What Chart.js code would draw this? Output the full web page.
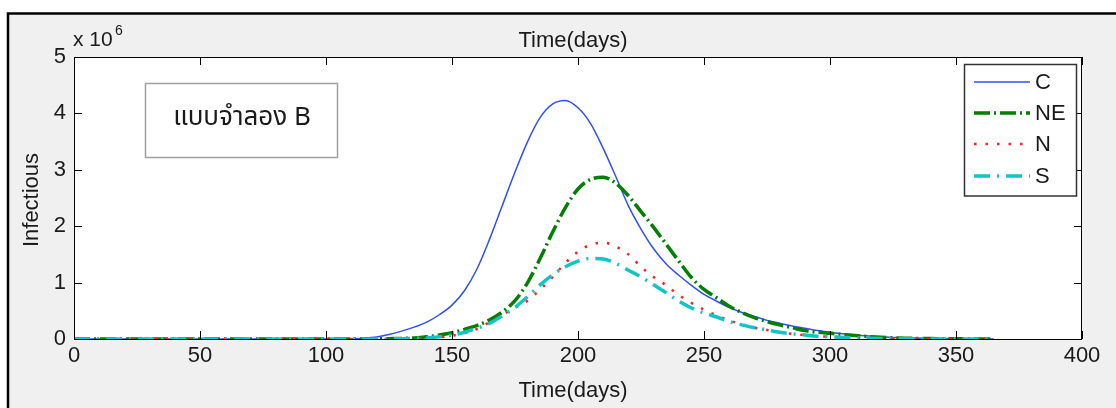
<!DOCTYPE html>
<html>
<head>
<meta charset="utf-8">
<script src="https://cdn.jsdelivr.net/npm/chart.js@4"></script>
<style>
  html, body { margin: 0; padding: 0; background: #fff; }
  #wrap { width: 1116px; height: 408px; position: relative; }
</style>
</head>
<body>
<div id="wrap"><canvas id="infChart"></canvas></div>
<script>
// days sampled along the time axis
const days = [0, 25, 50, 75,
  100, 105, 110, 115, 120, 125, 130, 135, 140, 145,
  150, 155, 160, 165, 170, 175, 180, 185, 190, 195,
  200, 205, 210, 215, 220, 225, 230, 235, 240, 245,
  250, 255, 260, 265, 270, 275, 280, 285, 290, 295,
  300, 310, 320, 330, 340, 350, 365];

// infectious (x 10^6) per region
const regionC = [0, 0, 0, 0,
  0, 0.002, 0.006, 0.015, 0.035, 0.08, 0.14, 0.21, 0.3, 0.43,
  0.6, 0.86, 1.25, 1.78, 2.37, 2.96, 3.5, 3.93, 4.17, 4.23,
  4.1, 3.82, 3.38, 2.88, 2.36, 1.95, 1.6, 1.33, 1.13, 0.95,
  0.79, 0.67, 0.56, 0.47, 0.4, 0.33, 0.28, 0.23, 0.19, 0.15,
  0.12, 0.07, 0.04, 0.02, 0.01, 0.005, 0.002];
const regionNE = [0, 0, 0, 0,
  0, 0, 0.001, 0.002, 0.003, 0.006, 0.01, 0.02, 0.04, 0.07,
  0.11, 0.17, 0.24, 0.34, 0.48, 0.68, 1.0, 1.43, 1.9, 2.33,
  2.66, 2.83, 2.87, 2.76, 2.54, 2.26, 1.98, 1.68, 1.38, 1.09,
  0.88, 0.73, 0.58, 0.47, 0.38, 0.31, 0.25, 0.2, 0.15, 0.12,
  0.1, 0.06, 0.03, 0.015, 0.007, 0.003, 0.001];
const regionN = [0, 0, 0, 0,
  0, 0, 0, 0, 0, 0.002, 0.005, 0.01, 0.015, 0.03,
  0.06, 0.1, 0.18, 0.3, 0.43, 0.55, 0.68, 0.88, 1.1, 1.35,
  1.55, 1.67, 1.71, 1.64, 1.5, 1.28, 1.1, 0.95, 0.78, 0.64,
  0.52, 0.42, 0.33, 0.26, 0.2, 0.16, 0.12, 0.09, 0.07, 0.05,
  0.04, 0.02, 0.01, 0.005, 0.002, 0.001, 0];
const regionS = [0, 0, 0, 0,
  0, 0, 0, 0, 0, 0.002, 0.005, 0.01, 0.02, 0.04,
  0.07, 0.12, 0.19, 0.28, 0.41, 0.56, 0.75, 0.96, 1.14, 1.28,
  1.38, 1.43, 1.42, 1.34, 1.22, 1.1, 0.96, 0.82, 0.67, 0.55,
  0.46, 0.39, 0.31, 0.25, 0.2, 0.16, 0.12, 0.09, 0.07, 0.05,
  0.04, 0.02, 0.01, 0.005, 0.002, 0.001, 0];

const seriesNames = ['C', 'NE', 'N', 'S'];
const seriesColors = ['#2f4fff', '#008000', '#ff2020', '#12c4c8'];
const seriesWidths = [1.5, 3.5, 2.5, 3.5];
const seriesDashes = [[], [16, 4, 2, 4], [2.5, 9], [16, 7, 2, 7]];

const xTicks = [0, 400, 50];   // min, max, step
const yTicks = [0, 5, 1];
const FONT = '"Liberation Sans", Arial, sans-serif';
const TXT = '#1a1a1a';

function pts(vals) {
  return days.map((d, i) => ({ x: d, y: vals[i] }));
}

const allSeries = [regionC, regionNE, regionN, regionS];
const datasets = allSeries.map((vals, i) => ({
  label: seriesNames[i],
  data: pts(vals),
  borderColor: seriesColors[i],
  borderWidth: seriesWidths[i],
  borderDash: seriesDashes[i],
  pointRadius: 0,
  fill: false,
  cubicInterpolationMode: 'monotone',
  order: 3 - i   // last series drawn on top, like the original
}));

// extra drawing: figure frame, box, inward ticks, titles, legend, note
const decor = {
  id: 'decor',
  beforeDraw(chart) {
    const ctx = chart.ctx, a = chart.chartArea;
    ctx.save();
    ctx.fillStyle = '#ffffff';
    ctx.fillRect(0, 0, chart.width, chart.height);
    ctx.fillStyle = '#f0f0f0';
    ctx.fillRect(8, 13.5, chart.width, chart.height);
    ctx.strokeStyle = '#000';
    ctx.lineWidth = 2.5;
    ctx.beginPath();
    ctx.moveTo(8, chart.height); ctx.lineTo(8, 13.5); ctx.lineTo(chart.width, 13.5);
    ctx.stroke();
    ctx.fillStyle = '#ffffff';
    ctx.fillRect(a.left, a.top, a.right - a.left, a.bottom - a.top);
    ctx.restore();
  },
  afterDraw(chart) {
    const ctx = chart.ctx, a = chart.chartArea;
    const xs = chart.scales.x, ys = chart.scales.y;
    ctx.save();
    // axes box
    ctx.strokeStyle = '#000';
    ctx.lineWidth = 1;
    ctx.strokeRect(a.left + 0.5, a.top + 0.5, a.right - a.left - 1, a.bottom - a.top);
    // inward ticks
    ctx.beginPath();
    for (let v = xTicks[0]; v <= xTicks[1]; v += xTicks[2]) {
      const px = Math.round(xs.getPixelForValue(v)) + 0.5;
      ctx.moveTo(px, a.bottom); ctx.lineTo(px, a.bottom - 8);
      ctx.moveTo(px, a.top); ctx.lineTo(px, a.top + 8);
    }
    for (let v = yTicks[0]; v <= yTicks[1]; v += yTicks[2]) {
      const py = Math.round(ys.getPixelForValue(v)) + 0.5;
      ctx.moveTo(a.left, py); ctx.lineTo(a.left + 8, py);
      ctx.moveTo(a.right, py); ctx.lineTo(a.right - 8, py);
    }
    ctx.stroke();

    // titles
    ctx.fillStyle = TXT;
    ctx.font = '22px ' + FONT;
    ctx.textAlign = 'center';
    ctx.textBaseline = 'alphabetic';
    const cx = (a.left + a.right) / 2 - 5;
    ctx.fillText('Time(days)', cx, 47);
    ctx.fillText('Time(days)', cx, 397);
    ctx.save();
    ctx.translate(38, (a.top + a.bottom) / 2 + 2);
    ctx.rotate(-Math.PI / 2);
    ctx.fillText('Infectious', 0, 0);
    ctx.restore();

    // exponent label
    ctx.textAlign = 'left';
    ctx.font = '21px ' + FONT;
    ctx.fillText('x 10', 73, 46);
    ctx.font = '14px ' + FONT;
    ctx.fillText('6', 115, 35);

    // note box
    ctx.fillStyle = '#fff';
    ctx.fillRect(145.5, 83.5, 192, 74);
    ctx.strokeStyle = '#a0a0a0';
    ctx.lineWidth = 1.5;
    ctx.strokeRect(145.5, 83.5, 192, 74);
    ctx.fillStyle = TXT;
    ctx.textAlign = 'center';
    ctx.textBaseline = 'middle';
    ctx.font = '26px "Noto Sans Thai", Tahoma, ' + FONT;
    ctx.fillText('แบบจำลอง B', 242, 120);

    // legend
    ctx.fillStyle = '#fff';
    ctx.fillRect(964.5, 64.5, 112, 131.5);
    ctx.strokeStyle = '#333';
    ctx.lineWidth = 1.5;
    ctx.strokeRect(964.5, 64.5, 112, 131.5);
    const rowY = [82, 113, 144, 176];
    seriesNames.forEach((name, i) => {
      ctx.strokeStyle = seriesColors[i];
      ctx.lineWidth = seriesWidths[i];
      ctx.setLineDash(seriesDashes[i]);
      ctx.beginPath();
      ctx.moveTo(974, rowY[i]); ctx.lineTo(1030, rowY[i]);
      ctx.stroke();
      ctx.setLineDash([]);
      ctx.fillStyle = TXT;
      ctx.textAlign = 'left';
      ctx.textBaseline = 'middle';
      ctx.font = '22px ' + FONT;
      ctx.fillText(name, 1035, rowY[i] + 1);
    });
    ctx.restore();
  }
};

new Chart(document.getElementById('infChart'), {
  type: 'line',
  data: { datasets: datasets },
  options: {
    responsive: true,
    maintainAspectRatio: false,
    animation: false,
    devicePixelRatio: 1,
    layout: { padding: { top: 57, right: 34, left: 0, bottom: 0 } },
    plugins: { legend: { display: false }, tooltip: { enabled: false } },
    scales: {
      x: {
        type: 'linear',
        min: xTicks[0], max: xTicks[1],
        grid: { display: false, drawTicks: false },
        border: { display: false },
        ticks: { stepSize: xTicks[2], padding: 4, color: TXT, font: { family: FONT, size: 22 }, maxRotation: 0 },
        afterFit(s) { s.height = 69; }
      },
      y: {
        type: 'linear',
        min: yTicks[0], max: yTicks[1],
        grid: { display: false, drawTicks: false },
        border: { display: false },
        ticks: { stepSize: yTicks[2], padding: 8, color: TXT, font: { family: FONT, size: 22 } },
        afterFit(s) { s.width = 74; }
      }
    }
  },
  plugins: [decor]
});
</script>
</body>
</html>
